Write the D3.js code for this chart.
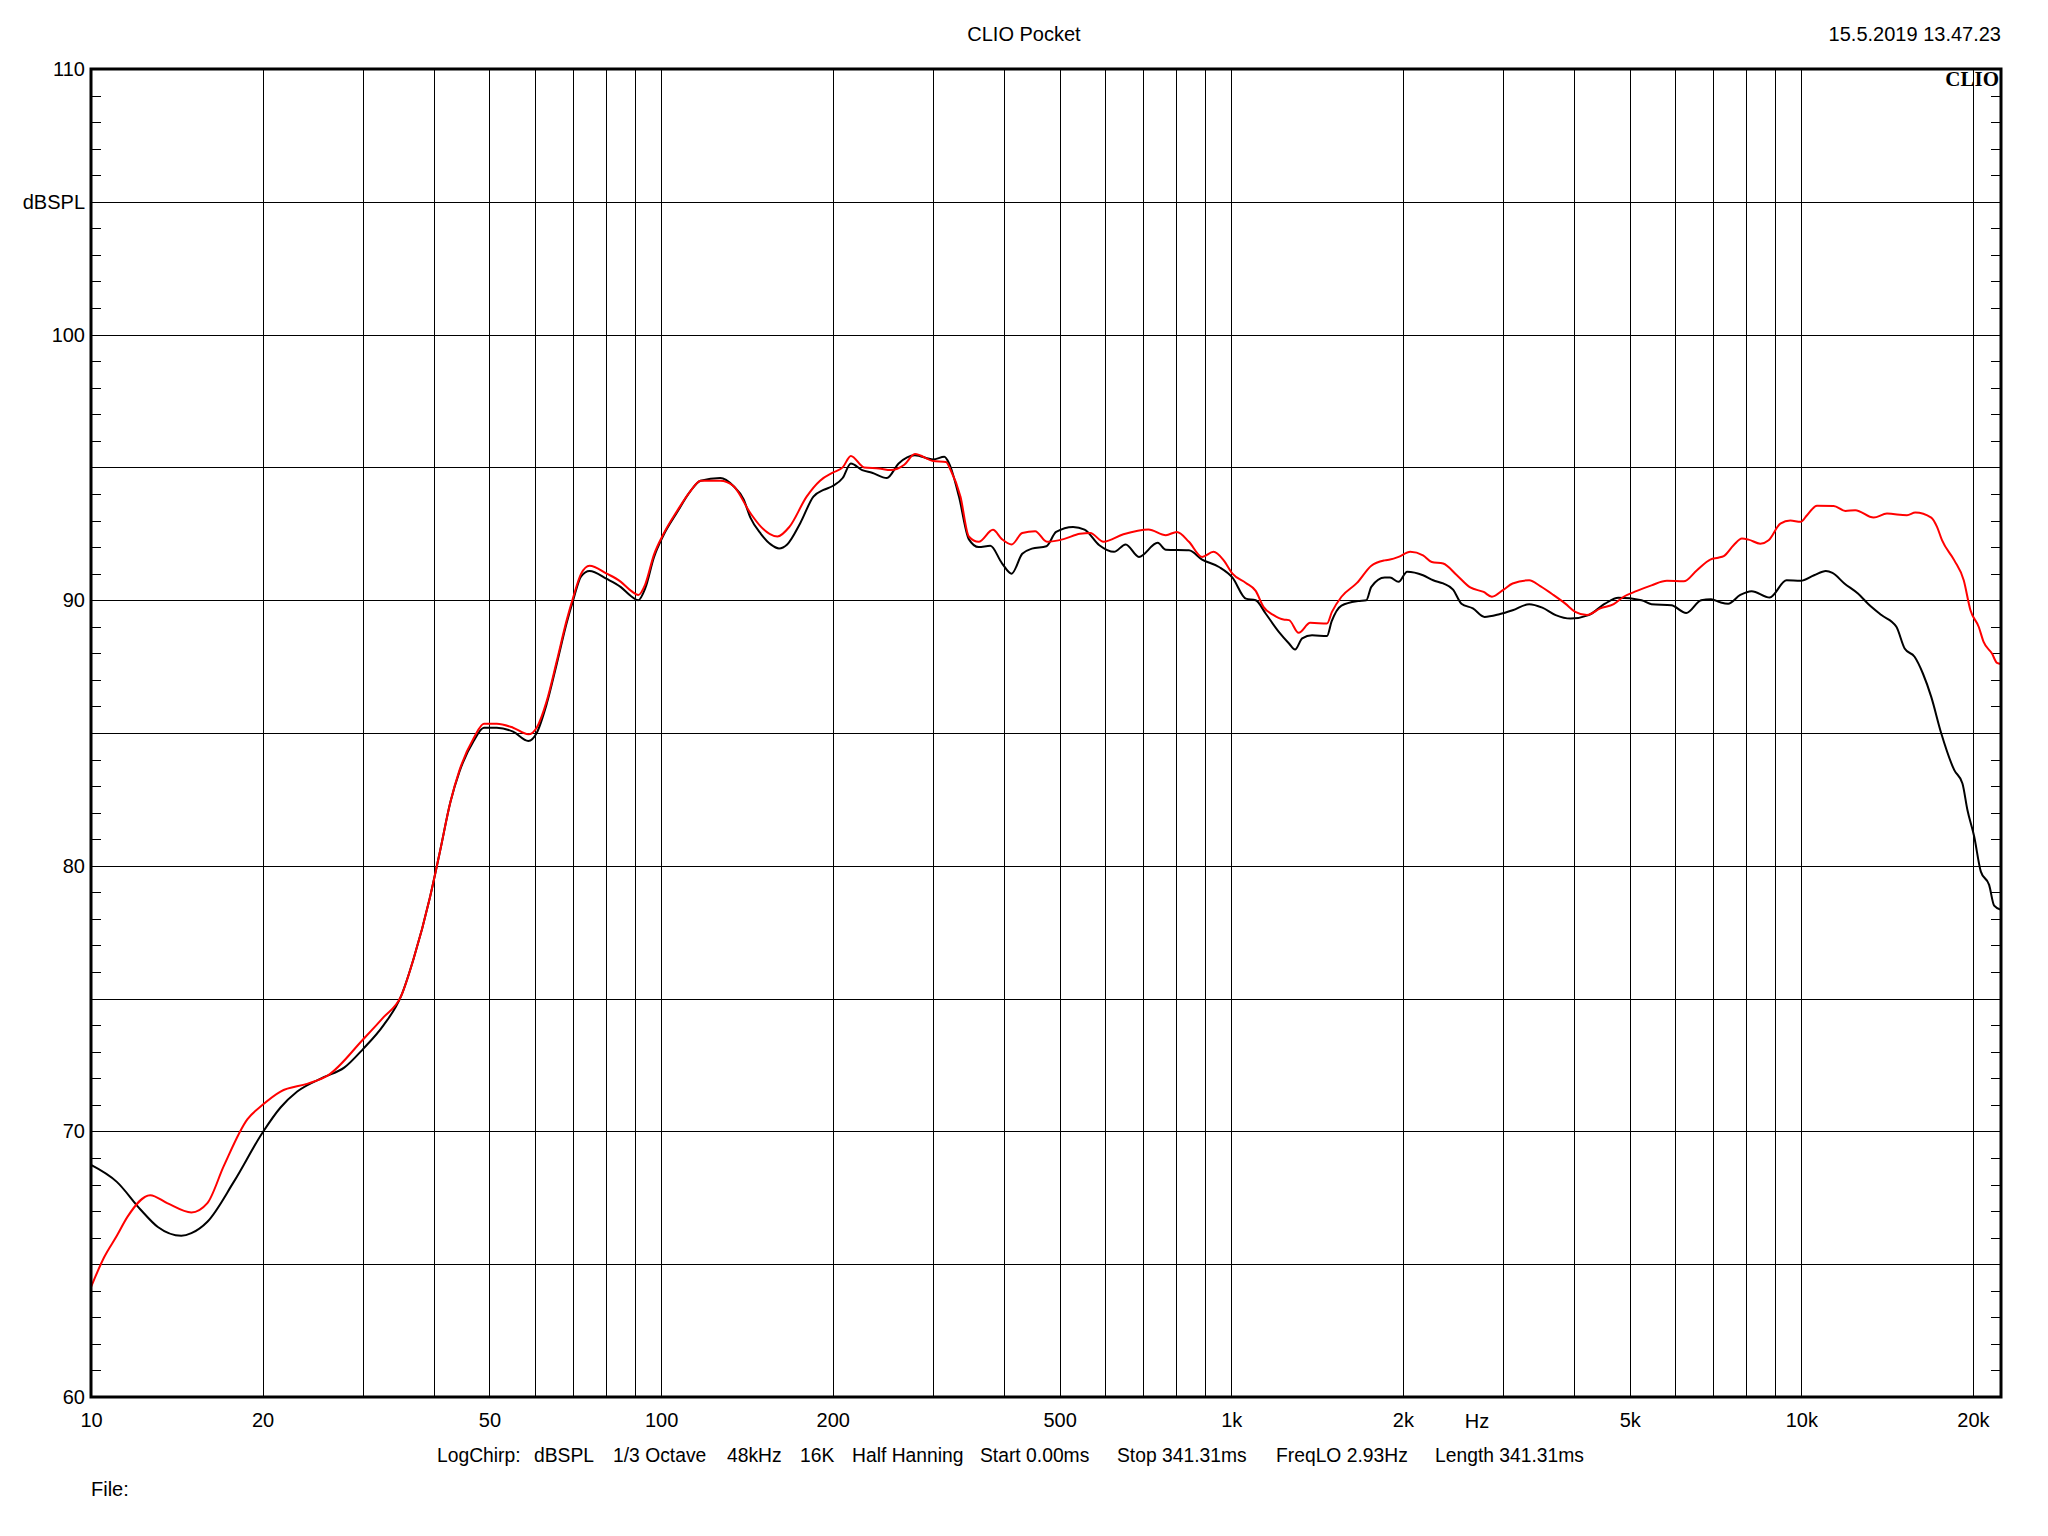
<!DOCTYPE html>
<html>
<head>
<meta charset="utf-8">
<script src="https://cdn.jsdelivr.net/npm/d3@7/dist/d3.min.js"></script>
<style>
  html, body { margin: 0; padding: 0; background: #fff; }
  text { font-family: "Liberation Sans", Arial, sans-serif; fill: #000; }
</style>
</head>
<body>
<svg id="chart" width="2048" height="1536"></svg>
<script>
// ---------- data ----------
const blackFreq = [10,11.1,12.2,13.1,14.4,15,16,17.8,20,21.5,23,25.6,27.8,30,32.6,35,36.8,39.3,40.9,42.7,44.3,46.9,48.9,51.5,55,58.5,60.5,63,65.6,68.3,70.1,72.4,74.9,80.3,84.9,88.6,91.2,93.8,97.1,101,106.6,112.5,117.3,127,133.9,139.5,143.5,149.6,155.7,161,166.4,175.4,185,192.7,200,208.2,215.2,225.3,234.4,248.9,261,278.7,300,313.9,320,333,346.5,360.6,378,396,412,430,447,474,493,528,553,587,623,653,689,743,768,843,889,952,1005,1061,1104,1149,1213,1263,1294,1332,1386,1472,1500,1561,1669,1726,1761,1859,1899,1966,2035,2170,2261,2354,2450,2534,2654,2782,2953,3116,3332,3513,3708,3938,4236,4526,4776,5245,5460,5916,6282,6671,6944,7210,7440,7816,8180,8800,9420,9970,10530,11040,11340,11900,12570,13090,13820,14680,15180,15800,16340,16900,17590,18550,19170,19560,20100,20650,21350,21790,22400];
const blackDb = [68.74,68.1,67.07,66.4,66.07,66.17,66.6,68.1,69.96,70.9,71.5,72.04,72.4,73.1,74.0,75.1,76.5,78.8,80.5,82.4,83.55,84.7,85.2,85.2,85.05,84.7,85.0,86.1,87.6,89.15,90.0,90.9,91.1,90.8,90.5,90.15,90.0,90.45,91.6,92.45,93.3,94.1,94.5,94.6,94.3,93.8,93.1,92.5,92.1,91.95,92.1,92.9,93.9,94.15,94.3,94.6,95.15,94.9,94.8,94.6,95.15,95.46,95.3,95.4,95.15,93.9,92.3,92.0,92.05,91.4,91.0,91.75,91.94,92.03,92.57,92.76,92.66,92.07,91.82,92.1,91.63,92.16,91.9,91.88,91.53,91.25,90.85,90.06,90.0,89.5,88.8,88.37,88.14,88.56,88.68,88.65,89.2,89.8,89.97,90.0,90.5,90.85,90.85,90.69,91.07,90.94,90.75,90.63,90.4,89.87,89.69,89.37,89.47,89.62,89.85,89.72,89.44,89.31,89.44,89.87,90.09,90.0,89.85,89.81,89.52,90.0,90.04,89.92,89.87,90.2,90.34,90.1,90.75,90.73,90.94,91.1,91.03,90.63,90.25,89.87,89.44,89.0,88.18,87.87,87.24,86.36,85.0,83.6,83.1,82.1,81.1,79.78,79.28,78.5,78.34];

const redFreq = [10,10.55,11.1,11.6,12.7,13.6,15,16,17.1,18.8,20,21.5,24,26,30,32.6,35,36.8,39.3,40.9,42.7,44.3,46.9,48.9,51.5,55,58.5,60.5,63,65.6,68.3,70.1,72.4,74.9,80.3,84.9,88.6,91.2,93.8,97.1,101,106.6,112.5,117.3,127,133.9,143.5,149.6,160,168,180,190,200,208.2,215.2,227,241,253,267,278.7,300,316,322,335,346.5,360.6,382,396,412,430,453,475,508,543,566,597,647,716,768,803,843,889,931,970,1005,1061,1104,1139,1187,1235,1263,1313,1376,1472,1502,1561,1662,1761,1859,1899,1966,2061,2170,2248,2354,2488,2626,2772,2866,3005,3116,3332,3484,3678,3855,4013,4207,4441,4687,4879,5148,5460,5812,6218,6561,6924,7150,7310,7606,7868,8081,8474,8763,9188,9566,9970,10233,10654,11395,11946,12436,13393,14133,15322,15850,16900,17300,17650,18550,19270,19800,20470,20880,21600,22040,22400];
const redDb = [64.14,65.27,66.07,66.8,67.6,67.3,66.95,67.3,68.7,70.45,71.0,71.5,71.8,72.1,73.46,74.3,75.1,76.5,78.8,80.5,82.4,83.6,84.8,85.35,85.35,85.2,84.95,85.2,86.2,87.7,89.25,90.1,91.0,91.3,91.0,90.7,90.35,90.2,90.6,91.7,92.5,93.35,94.1,94.5,94.5,94.3,93.27,92.77,92.4,92.77,93.9,94.5,94.8,95.0,95.43,95.0,94.96,94.9,95.1,95.5,95.24,95.2,94.9,93.9,92.4,92.2,92.65,92.3,92.1,92.53,92.6,92.2,92.3,92.5,92.53,92.2,92.48,92.66,92.45,92.57,92.2,91.63,91.82,91.5,91.0,90.65,90.35,89.75,89.44,89.27,89.25,88.77,89.15,89.12,89.56,90.13,90.65,91.3,91.5,91.53,91.63,91.82,91.69,91.44,91.38,90.94,90.48,90.31,90.13,90.4,90.63,90.75,90.53,90.19,89.87,89.56,89.44,89.69,89.85,90.13,90.35,90.56,90.73,90.71,91.13,91.53,91.6,91.66,92.07,92.32,92.28,92.13,92.26,92.88,93.0,92.95,93.2,93.56,93.55,93.36,93.39,93.11,93.26,93.2,93.3,93.11,92.76,92.26,91.5,90.75,89.62,89.0,88.43,87.99,87.64,87.6];

const xDomain = [10, 22400];
const yDomain = [60, 110];
const xGridValues = [20,30,40,50,60,70,80,90,100,200,300,400,500,600,700,800,900,1000,2000,3000,4000,5000,6000,7000,8000,9000,10000,20000];
const xTickValues = [10,20,50,100,200,500,1000,2000,5000,10000,20000];
const xTickLabels = ["10","20","50","100","200","500","1k","2k","5k","10k","20k"];
const yGridValues = [65,70,75,80,85,90,95,100,105];
const yTickValues = [60,70,80,90,100,105,110];
const yTickLabels = ["60","70","80","90","100","dBSPL","110"];
const yMinorValues = d3.range(61,110).filter(v => v % 5 !== 0);
const title = "CLIO Pocket";
const dateText = "15.5.2019 13.47.23";
const infoParts = ["LogChirp:","dBSPL","1/3 Octave","48kHz","16K","Half Hanning","Start 0.00ms","Stop 341.31ms","FreqLO 2.93Hz","Length 341.31ms"];
const infoX = [437,534,613,727,800,852,980,1117,1276,1435];

// ---------- layout ----------
const L = 91, R = 2001, T = 69, B = 1397;
const svg = d3.select("#chart");
const x = d3.scaleLog().domain(xDomain).range([L, R]);
const y = d3.scaleLinear().domain(yDomain).range([B, T]);

// grid
const g = svg.append("g");
g.selectAll("line.vg").data(xGridValues).join("line")
  .attr("x1", d => Math.round(x(d)) + 0.5).attr("x2", d => Math.round(x(d)) + 0.5)
  .attr("y1", T).attr("y2", B).attr("stroke", "#000").attr("stroke-width", 1);
g.selectAll("line.hg").data(yGridValues).join("line")
  .attr("y1", d => Math.round(y(d)) + 0.5).attr("y2", d => Math.round(y(d)) + 0.5)
  .attr("x1", L).attr("x2", R).attr("stroke", "#000").attr("stroke-width", 1);
// minor ticks left/right
g.selectAll("line.ml").data(yMinorValues).join("line")
  .attr("y1", d => Math.round(y(d)) + 0.5).attr("y2", d => Math.round(y(d)) + 0.5)
  .attr("x1", L).attr("x2", L + 10).attr("stroke", "#000").attr("stroke-width", 1);
g.selectAll("line.mr").data(yMinorValues).join("line")
  .attr("y1", d => Math.round(y(d)) + 0.5).attr("y2", d => Math.round(y(d)) + 0.5)
  .attr("x1", R - 10).attr("x2", R).attr("stroke", "#000").attr("stroke-width", 1);

// curves
const mk = (fs, ds) => fs.map((f, i) => [f, ds[i]]);
const line = d3.line().x(d => x(d[0])).y(d => y(d[1])).curve(d3.curveMonotoneX);
svg.append("path").datum(mk(blackFreq, blackDb)).attr("d", line)
  .attr("fill", "none").attr("stroke", "#000").attr("stroke-width", 2).attr("stroke-linejoin", "round");
svg.append("path").datum(mk(redFreq, redDb)).attr("d", line)
  .attr("fill", "none").attr("stroke", "#ff0000").attr("stroke-width", 2).attr("stroke-linejoin", "round");

// frame
svg.append("rect").attr("x", L).attr("y", T).attr("width", R - L).attr("height", B - T)
  .attr("fill", "none").attr("stroke", "#000").attr("stroke-width", 3);

// x axis labels
const xAxis = d3.axisBottom(x).tickValues(xTickValues)
  .tickFormat((d, i) => xTickLabels[i]).tickSize(0).tickPadding(16);
const xa = svg.append("g").attr("transform", `translate(0,${B})`).call(xAxis);
xa.select(".domain").remove();
xa.selectAll("text").attr("font-size", 20).attr("font-family", "Liberation Sans, Arial, sans-serif").attr("fill", "#000");
svg.append("text").attr("x", 1477).attr("y", 1428).attr("text-anchor", "middle").attr("font-size", 20).text("Hz");

// y axis labels
const yAxis = d3.axisLeft(y).tickValues(yTickValues)
  .tickFormat((d, i) => yTickLabels[i]).tickSize(0).tickPadding(6);
const ya = svg.append("g").attr("transform", `translate(${L},0)`).call(yAxis);
ya.select(".domain").remove();
ya.selectAll("text").attr("font-size", 20).attr("font-family", "Liberation Sans, Arial, sans-serif").attr("fill", "#000");

// titles
svg.append("text").attr("x", 1024).attr("y", 41).attr("text-anchor", "middle").attr("font-size", 20).text(title);
svg.append("text").attr("x", 2001).attr("y", 41).attr("text-anchor", "end").attr("font-size", 20).text(dateText);
svg.append("text").attr("x", 1999).attr("y", 86).attr("text-anchor", "end")
  .style("font-family", "'Liberation Serif', 'DejaVu Serif', serif").attr("font-weight", "bold").attr("font-size", 21).text("CLIO");

// info line
svg.selectAll("text.info").data(infoParts).join("text").attr("class", "info")
  .attr("x", (d, i) => infoX[i]).attr("y", 1462).attr("font-size", 19.3).text(d => d);
svg.append("text").attr("x", 91).attr("y", 1496).attr("font-size", 20).text("File:");
</script>
</body>
</html>
